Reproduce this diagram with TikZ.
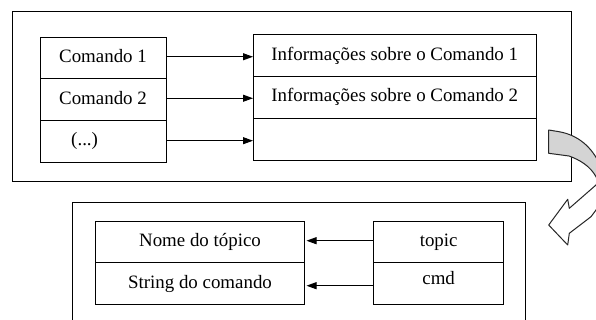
\documentclass[tikz,border=0pt]{standalone}
\usepackage{fontspec}
\setmainfont{Liberation Serif}
\usetikzlibrary{arrows.meta}
\begin{document}
\begin{tikzpicture}[x=1pt,y=-1pt,
  cell/.style={draw, line width=1pt, inner sep=0pt, text height=13pt, text depth=4pt,
    font=\rmfamily\fontsize{18.9}{22}\selectfont},
  frame/.style={draw, line width=1pt, inner sep=0pt},
  link/.style={line width=1pt, -{Triangle[length=10pt,width=7pt]}},
  bandshape/.style={insert path={(548.7,130) -- (559,131.7)
     .. controls (578,135) and (592,147) .. (600,165)
     .. controls (607,182) and (603,200) .. (596,210)
     -- (591,216.7) -- (569.3,233.3) -- (567.7,245) -- (548.7,225) -- (567.7,199.3) -- (569.3,208.3)
     -- (596,185) .. controls (598,182) and (598,179) .. (596,176.7)
     .. controls (590,166) and (580,160) .. (569,156) -- (548.7,153.3) -- cycle}}
]
\clip (0,0) rectangle (596,320);
\fill[white] (0,0) rectangle (596,320);

% top frame
\node[frame, minimum width=558.5pt, minimum height=170pt] (topframe) at (291.75,96.7) {};
\node[cell, minimum width=126pt, minimum height=41.5pt] (l1) at (103,58.25) {Comando 1};
\node[cell, minimum width=126pt, minimum height=41.5pt] (l2) at (103,99.75) {Comando 2};
\node[cell, minimum width=126pt, minimum height=42pt] (l3) at (103,141.5) {\llap{(...)\hspace{5pt}}};
\node[cell, minimum width=282.5pt, minimum height=41.7pt] (r1) at (394.75,55.85) {Informações sobre o Comando 1};
\node[cell, minimum width=282.5pt, minimum height=41.7pt] (r2) at (394.75,97.5) {Informações sobre o Comando 2};
\node[cell, minimum width=282.5pt, minimum height=41.7pt] (r3) at (394.75,139.2) {};

\draw[link] ([yshift=1.5pt]l1.east) -- ([yshift=1.5pt]l1.east -| r1.west);
\draw[link] ([yshift=1.5pt]l2.east) -- ([yshift=1.5pt]l2.east -| r2.west);
\draw[link] ([yshift=0.8pt]l3.east) -- ([yshift=0.8pt]l3.east -| r3.west);

% bottom frame
\node[frame, minimum width=452.7pt, minimum height=127.7pt] (botframe) at (298.65,266.15) {};
\node[cell, minimum width=209pt, minimum height=41pt] (bl1) at (200,242.2) {Nome do tópico};
\node[cell, minimum width=209pt, minimum height=41.6pt] (bl2) at (200,283.5) {String do comando};
\node[cell, minimum width=129.7pt, minimum height=41pt] (br1) at (438.65,242.2) {topic};
\node[cell, minimum width=129.7pt, minimum height=41.6pt] (br2) at (438.65,283.5) {\raisebox{4pt}{cmd}};

\draw[link, shorten >=1.5pt] ([yshift=1.5pt]br1.west) -- ([yshift=1.5pt]br1.west -| bl1.east);
\draw[link, shorten >=1.5pt] ([yshift=-2.2pt]br2.west) -- ([yshift=-2.2pt]br2.west -| bl2.east);

% curved arrow
\fill[white, bandshape];
\begin{scope}
  \clip (530,120) rectangle (640,182);
  \fill[black!17, bandshape];
\end{scope}
\draw[line width=1pt, line join=round, black!85, bandshape];
\end{tikzpicture}
\end{document}
